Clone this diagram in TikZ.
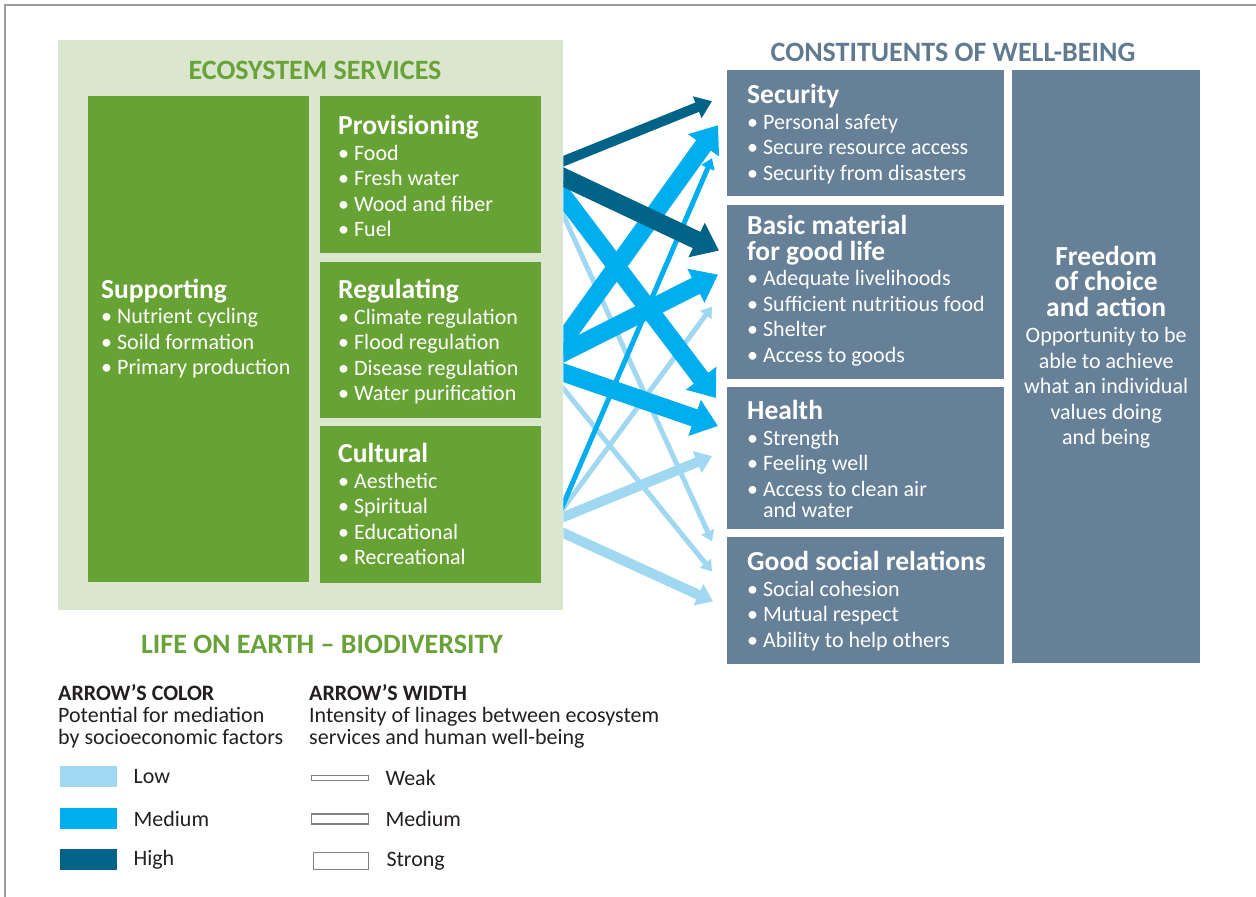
\documentclass[tikz,border=0pt]{standalone}
\usepackage{fontspec}
\setmainfont{Carlito}
\usetikzlibrary{arrows.meta,positioning,calc}

\definecolor{bggreen}{RGB}{219,230,207}
\definecolor{boxgreen}{RGB}{103,162,53}
\definecolor{titlegreen}{RGB}{104,162,56}
\definecolor{slate}{RGB}{102,128,151}
\definecolor{slatetitle}{RGB}{96,122,145}
\definecolor{lowtone}{RGB}{160,216,242}
\definecolor{midtone}{RGB}{0,174,239}
\definecolor{hightone}{RGB}{0,99,135}
\definecolor{inkgray}{RGB}{35,31,32}
\definecolor{framegray}{RGB}{155,155,155}

% heading lines get a fixed height of 20pt
\newcommand{\hd}[1]{{\fontsize{27.5}{25.5}\selectfont\bfseries\rule{0pt}{20pt}#1}}

\tikzset{
  gbox/.style={fill=boxgreen, anchor=north west, inner sep=0pt, minimum width=221pt},
  sbox/.style={fill=slate, anchor=north west, inner sep=0pt, minimum width=277pt},
  txt/.style={anchor=north west, align=left, inner sep=0pt, text=white,
    font=\fontsize{22}{25.5}\selectfont},
  ttl/.style={anchor=base, inner sep=0pt, font=\fontsize{28}{28}\selectfont\bfseries},
  lgd/.style={anchor=north west, align=left, inner sep=0pt, text=inkgray,
    font=\fontsize{22}{22}\selectfont},
  swatch/.style={anchor=north west, inner sep=0pt, minimum width=57pt, minimum height=21pt},
  wbar/.style={draw=gray, line width=1.6pt, fill=white, inner sep=0pt, minimum width=57pt},
  link/.style={->, shorten <=-14pt},
  weakw/.style={line width=5pt},
  midw/.style={line width=10pt},
  strongw/.style={line width=18pt}
}

\begin{document}
\begin{tikzpicture}[%
x=1pt, y=-1pt,
>={Triangle[length=5pt 1.1, width=5pt 1.75]}
]
\useasboundingbox (0,0) rectangle (1256,897);
\draw[framegray, line width=1.5pt] (5,897) -- (5,5) -- (1256,5);

% ecosystem services
\node[fill=bggreen, anchor=north west, inner sep=0pt, minimum width=505pt,
      minimum height=570pt] (es) at (58,40) {};
\node[ttl, text=titlegreen] (estitle) at (315,79) {ECOSYSTEM SERVICES};
\node[gbox, minimum height=486pt] (supp) at (88,96) {};
\node[gbox, minimum height=157pt] (prov) at (320,96) {};
\node[gbox, minimum height=156pt] (reg) [below=8pt of prov] {};
\node[gbox, minimum height=157pt] (cult) [below=8pt of reg] {};

\node[txt] (supptxt) at ([xshift=13pt,yshift=-182pt]supp.north west)
  {\hd{Supporting}\\ • Nutrient cycling\\• Soild formation\\• Primary production};
\node[txt] (provtxt) at ([xshift=18pt,yshift=-18pt]prov.north west)
  {\hd{Provisioning}\\[0.5pt] • Food\\• Fresh water\\• Wood and fiber\\• Fuel};
\node[txt] (regtxt) at ([xshift=18pt,yshift=-17pt]reg.north west)
  {\hd{Regulating}\\ • Climate regulation\\• Flood regulation\\• Disease regulation\\• Water purification};
\node[txt] (culttxt) at ([xshift=18pt,yshift=-16pt]cult.north west)
  {\hd{Cultural}\\[0.5pt] • Aesthetic\\• Spiritual\\• Educational\\• Recreational};

\node[ttl, text=titlegreen] (life) at (322,653) {LIFE ON EARTH – BIODIVERSITY};

% constituents of well-being
\node[ttl, text=slatetitle] (cwtitle) at (953,61) {CONSTITUENTS OF WELL-BEING};
\node[sbox, minimum height=126pt] (sec) at (727,70) {};
\node[sbox, minimum height=174pt] (basic) [below=8pt of sec] {};
\node[sbox, minimum height=142pt] (health) [below=8pt of basic] {};
\node[sbox, minimum height=127pt] (social) [below=8pt of health] {};
\node[fill=slate, anchor=north west, inner sep=0pt, minimum width=188pt,
      minimum height=593pt] (freedom) at (1012,70) {};

\node[txt] (sectxt) at ([xshift=20pt,yshift=-13pt]sec.north west)
  {\hd{Security}\\[0.5pt] • Personal safety\\• Secure resource access\\• Security from disasters};
\node[txt] (basictxt) at ([xshift=20pt,yshift=-10pt]basic.north west)
  {\hd{Basic material}\\\hd{for good life}\\ • Adequate livelihoods\\• Sufficient nutritious food\\• Shelter\\• Access to goods};
\node[txt] (healthtxt) at ([xshift=20pt,yshift=-12pt]health.north west)
  {\hd{Health}\\[0.5pt] • Strength\\• Feeling well\\• Access to clean air\\[-4.5pt]\hphantom{• }and water};
\node[txt] (socialtxt) at ([xshift=20pt,yshift=-13pt]social.north west)
  {\hd{Good social relations}\\[0.5pt] • Social cohesion\\• Mutual respect\\• Ability to help others};
\node[txt, anchor=north, align=center] (freetxt) at ([yshift=-175pt]freedom.north)
  {\hd{Freedom}\\\hd{of choice}\\\hd{and action}\\[1pt] Opportunity to be\\able to achieve\\what an individual\\values doing\\and being};

% linkages
\coordinate (provout) at (prov.east -| es.east);
\coordinate (regout) at (reg.east -| es.east);
\coordinate (cultout) at (cult.east -| es.east);
\begin{scope}
\clip (es.north east) rectangle (freedom.south west);
\draw[link, lowtone, weakw] ([yshift=-40.5pt]provout) -- ([xshift=-15pt,yshift=59.5pt]social.west);
\draw[link, lowtone, weakw] ([yshift=-49pt]regout) -- ([xshift=-15pt,yshift=29.5pt]social.west);
\draw[link, lowtone, weakw] ([yshift=-3.5pt]cultout) -- ([xshift=-15pt,yshift=-15pt]basic.west);
\draw[link, lowtone, midw] ([yshift=-12.5pt]cultout) -- ([xshift=-15pt,yshift=2pt]health.west);
\draw[link, lowtone, midw] ([yshift=-28.5pt]cultout) -- ([xshift=-14pt,yshift=-0.5pt]social.west);
\draw[link, midtone, weakw] ([yshift=0.5pt]cultout) -- ([xshift=-15pt,yshift=-25pt]sec.west);
\draw[link, midtone, strongw] ([yshift=-1pt]regout) -- ([xshift=-9pt,yshift=8pt]sec.west);
\draw[link, midtone, strongw] ([yshift=-13pt]regout) -- ([xshift=-9pt,yshift=17pt]basic.west);
\draw[link, midtone, strongw] ([yshift=-33pt]regout) -- ([xshift=-9pt,yshift=32pt]health.west);
\draw[link, midtone, strongw] ([yshift=-21.5pt]provout) -- ([xshift=-11pt,yshift=60pt]health.west);
\draw[link, hightone, midw] ([yshift=13.5pt]provout) -- ([xshift=-15pt,yshift=32pt]sec.west);
\draw[link, hightone, strongw] ([yshift=-2.5pt]provout) -- ([xshift=-8pt,yshift=41pt]basic.west);
\end{scope}

% legend
\node[lgd] (colhd) at (58,684)
  {\textbf{\rule{0pt}{16pt}ARROW’S COLOR}\\Potential for mediation\\by socioeconomic factors};
\node[lgd] (widhd) at (309,684)
  {\textbf{\rule{0pt}{16pt}ARROW’S WIDTH}\\Intensity of linages between ecosystem\\services and human well-being};
\node[swatch, fill=lowtone] (swlow) at (60,766) {};
\node[swatch, fill=midtone] (swmid) at (60,808) {};
\node[swatch, fill=hightone] (swhigh) at (60,849) {};
\node[lgd, anchor=west] [right=16pt of swlow] {Low};
\node[lgd, anchor=west] [right=16pt of swmid] {Medium};
\node[lgd, anchor=west] [right=16pt of swhigh] {High};
\node[wbar, minimum height=5pt] (bweak) at (340,778) {};
\node[wbar, minimum height=10pt] (bmid) at (340,819) {};
\node[wbar, minimum height=17pt, minimum width=55pt] (bstrong) at (341,861) {};
\node[lgd, anchor=west] [right=16pt of bweak] {Weak};
\node[lgd, anchor=west] [right=16pt of bmid] {Medium};
\node[lgd, anchor=west] [right=17pt of bstrong] {Strong};
\end{tikzpicture}
\end{document}
